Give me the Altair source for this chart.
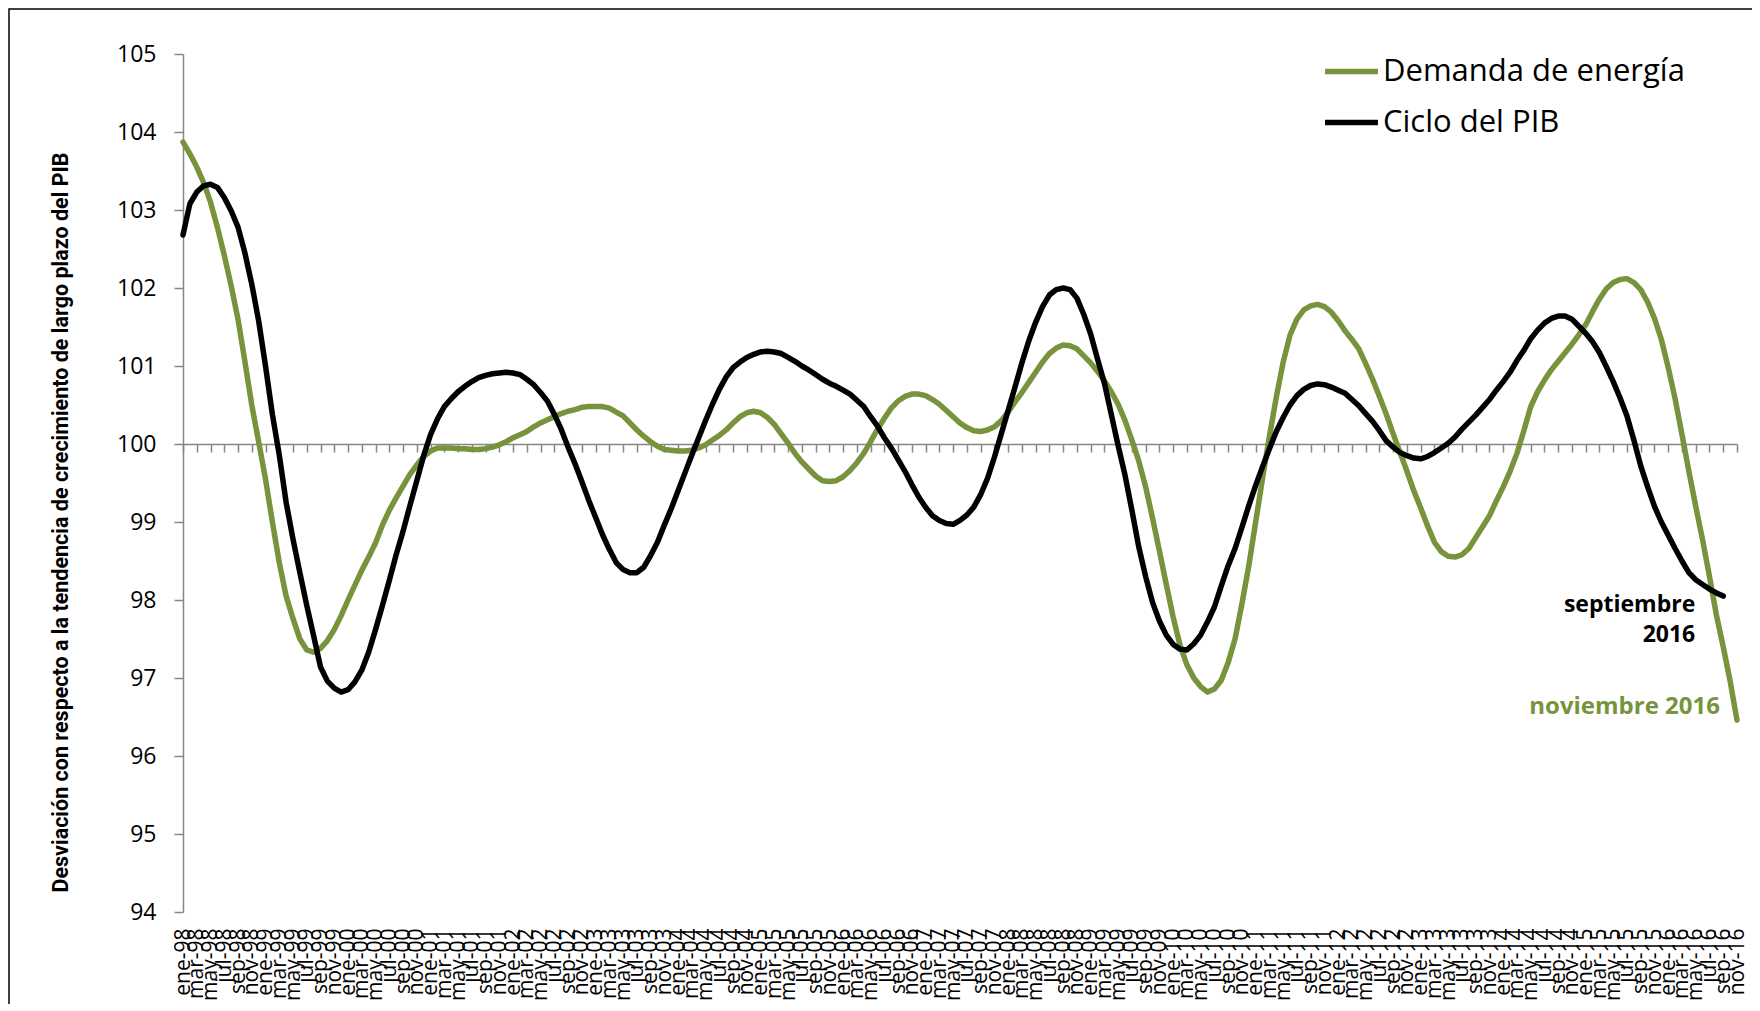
import altair as alt
import pandas as pd

MESES = ["ene", "feb", "mar", "abr", "may", "jun", "jul", "ago", "sep", "oct", "nov", "dic"]
meses = [f"{MESES[m]}-{(1998 + y) % 100:02d}" for y in range(19) for m in range(12)][:227]

demanda = [
    103.87, 103.72, 103.55, 103.35, 103.10, 102.78, 102.42, 102.03, 101.60, 101.06,
    100.50, 100.03, 99.55, 99.00, 98.48, 98.05, 97.76, 97.50, 97.36, 97.33,
    97.38, 97.48, 97.62, 97.80, 98.00, 98.19, 98.38, 98.55, 98.73, 98.96,
    99.15, 99.31, 99.46, 99.61, 99.73, 99.84, 99.91, 99.95, 99.95, 99.95,
    99.94, 99.94, 99.93, 99.93, 99.94, 99.96, 99.99, 100.03, 100.08, 100.12,
    100.16, 100.22, 100.27, 100.31, 100.35, 100.39, 100.42, 100.44, 100.47, 100.48,
    100.48, 100.48, 100.46, 100.41, 100.36, 100.27, 100.18, 100.10, 100.03, 99.97,
    99.93, 99.92, 99.91, 99.91, 99.92, 99.95, 99.99, 100.05, 100.11, 100.18,
    100.27, 100.35, 100.40, 100.42, 100.40, 100.34, 100.25, 100.13, 100.01, 99.88,
    99.77, 99.68, 99.59, 99.53, 99.52, 99.53, 99.58, 99.66, 99.76, 99.88,
    100.03, 100.19, 100.33, 100.46, 100.55, 100.61, 100.64, 100.64, 100.62, 100.57,
    100.51, 100.43, 100.35, 100.27, 100.21, 100.17, 100.16, 100.18, 100.22, 100.30,
    100.41, 100.54, 100.66, 100.79, 100.92, 101.05, 101.16, 101.23, 101.27, 101.26,
    101.22, 101.13, 101.04, 100.93, 100.81, 100.67, 100.51, 100.30, 100.05, 99.78,
    99.45, 99.05, 98.63, 98.20, 97.78, 97.42, 97.17, 97.00, 96.89, 96.82,
    96.86, 96.97, 97.20, 97.50, 97.95, 98.44, 99.00, 99.56, 100.10, 100.60,
    101.05, 101.40, 101.60, 101.72, 101.77, 101.79, 101.76, 101.69, 101.58, 101.45,
    101.34, 101.22, 101.03, 100.83, 100.61, 100.38, 100.13, 99.89, 99.65, 99.40,
    99.18, 98.95, 98.74, 98.62, 98.56, 98.55, 98.58, 98.66, 98.80, 98.94,
    99.08, 99.27, 99.45, 99.65, 99.88, 100.17, 100.48, 100.67, 100.82, 100.95,
    101.06, 101.17, 101.28, 101.40, 101.53, 101.70, 101.86, 101.99, 102.07, 102.11,
    102.12, 102.07, 101.98, 101.82, 101.61, 101.34, 100.98, 100.58, 100.12, 99.65,
    99.20, 98.77, 98.30, 97.81, 97.40, 96.96, 96.46,
]

ciclo = [
    102.68, 103.08, 103.23, 103.31, 103.33, 103.29, 103.16, 102.99, 102.78, 102.45,
    102.05, 101.58, 101.00, 100.38, 99.86, 99.25, 98.78, 98.35, 97.93, 97.54,
    97.14, 96.96, 96.87, 96.82, 96.85, 96.95, 97.10, 97.33, 97.62, 97.93,
    98.25, 98.58, 98.88, 99.21, 99.53, 99.85, 100.12, 100.32, 100.48, 100.58,
    100.67, 100.74, 100.80, 100.85, 100.88, 100.90, 100.91, 100.92, 100.91, 100.89,
    100.83, 100.76, 100.66, 100.55, 100.38, 100.19, 99.96, 99.75, 99.52, 99.28,
    99.06, 98.84, 98.65, 98.48, 98.39, 98.35, 98.35, 98.42, 98.57, 98.74,
    98.96, 99.17, 99.40, 99.63, 99.86, 100.08, 100.30, 100.51, 100.70, 100.86,
    100.98, 101.05, 101.11, 101.15, 101.18, 101.19, 101.18, 101.16, 101.11, 101.06,
    101.00, 100.95, 100.89, 100.83, 100.78, 100.74, 100.69, 100.64, 100.56, 100.48,
    100.35, 100.23, 100.08, 99.95, 99.80, 99.65, 99.48, 99.32, 99.19, 99.08,
    99.02, 98.98, 98.97, 99.02, 99.09, 99.19, 99.35, 99.56, 99.83, 100.13,
    100.43, 100.73, 101.04, 101.32, 101.56, 101.76, 101.91, 101.98, 102.00, 101.98,
    101.87, 101.66, 101.41, 101.09, 100.78, 100.38, 99.98, 99.60, 99.15, 98.68,
    98.30, 97.97, 97.73, 97.55, 97.43, 97.37, 97.36, 97.44, 97.55, 97.72,
    97.91, 98.18, 98.44, 98.66, 98.93, 99.21, 99.47, 99.71, 99.94, 100.16,
    100.34, 100.50, 100.62, 100.70, 100.75, 100.77, 100.76, 100.73, 100.69, 100.65,
    100.57, 100.49, 100.39, 100.29, 100.17, 100.04, 99.96, 99.89, 99.85, 99.82,
    99.81, 99.84, 99.89, 99.95, 100.01, 100.09, 100.19, 100.28, 100.37, 100.47,
    100.57, 100.69, 100.80, 100.92, 101.07, 101.20, 101.35, 101.46, 101.55, 101.61,
    101.64, 101.64, 101.60, 101.51, 101.42, 101.31, 101.17, 100.99, 100.80, 100.59,
    100.36, 100.05, 99.72, 99.45, 99.20, 99.00, 98.83, 98.66, 98.50, 98.35,
    98.26, 98.20, 98.14, 98.09, 98.05,
]

series = ["Demanda de energía", "Ciclo del PIB"]
colores = ["#77933C", "#000000"]
y_ticks = list(range(94, 106))

ann_negro_txt = ["septiembre", "2016"]
ann_negro_mes = ["sep-16", "sep-16"]
ann_negro_val = [97.93, 97.55]
ann_verde_txt = ["noviembre 2016"]
ann_verde_mes = ["nov-16"]
ann_verde_val = [96.63]

rows = []
for i, v in enumerate(demanda):
    rows.append({"mes": meses[i], "serie": series[0], "valor": v, "k": i})
for i, v in enumerate(ciclo):
    rows.append({"mes": meses[i], "serie": series[1], "valor": v, "k": i})
df = pd.DataFrame(rows)

x_scale = alt.Scale(type="point", padding=0)
y_scale = alt.Scale(domain=[94, 105], nice=False, zero=False)

x_axis = alt.Axis(
    values=meses[::2], labelAngle=-90, labelFont="Open Sans", labelFontSize=21,
    labelColor="black", tickSize=8, offset=-468, labelPadding=476,
    labelOverlap=False, labelFlush=False, grid=False, title=None,
)
y_axis = alt.Axis(
    values=y_ticks, format="d", labelFont="Open Sans", labelFontSize=23, labelColor="black",
    tickSize=9, labelPadding=18, grid=False,
    title="Desviación con respecto a la tendencia de crecimiento de largo plazo del PIB",
    titleFont="Roboto", titleFontSize=21.5, titleFontWeight="bold", titleColor="black",
    titleAngle=270, titleX=-122, titleY=468, titleAlign="center", titleBaseline="middle",
    titleLimit=0,
)

border = alt.Chart(pd.DataFrame({"a": [0]})).mark_rect(
    filled=False, stroke="black", strokeWidth=1.5
).encode(x=alt.value(-174), y=alt.value(-45), x2=alt.value(1700), y2=alt.value(1100))

lines = alt.Chart(df).mark_line(strokeWidth=5.5, strokeCap="round", strokeJoin="round").encode(
    x=alt.X("mes:O", sort=meses, scale=x_scale, axis=x_axis),
    y=alt.Y("valor:Q", scale=y_scale, axis=y_axis),
    color=alt.Color(
        "serie:N", sort=series,
        scale=alt.Scale(domain=series, range=colores),
        legend=alt.Legend(
            orient="none", legendX=1139, legendY=-12, title=None,
            symbolType="stroke", symbolStrokeWidth=5.5, symbolSize=2800,
            labelFont="Open Sans", labelFontSize=31, labelColor="black", labelLimit=0,
            rowPadding=6, labelOffset=2, padding=0,
        ),
    ),
    order=alt.Order("k:Q"),
)

ann_negro = alt.Chart(pd.DataFrame({"t": ann_negro_txt, "mes": ann_negro_mes, "valor": ann_negro_val})).mark_text(
    font="Open Sans", fontWeight="bold", fontSize=23, align="right", baseline="middle", dx=-28, color="black"
).encode(x=alt.X("mes:O", sort=meses), y=alt.Y("valor:Q"), text="t:N")

ann_verde = alt.Chart(pd.DataFrame({"t": ann_verde_txt, "mes": ann_verde_mes, "valor": ann_verde_val})).mark_text(
    font="Open Sans", fontWeight="bold", fontSize=24, align="right", baseline="middle", dx=-17, color="#77933C"
).encode(x=alt.X("mes:O", sort=meses), y=alt.Y("valor:Q"), text="t:N")

chart = alt.layer(border, lines, ann_negro, ann_verde).properties(
    width=1554, height=858,
    padding={"left": 175, "top": 46, "right": 15, "bottom": 92},
    autosize=alt.AutoSizeParams(type="none"),
).configure_view(strokeWidth=0).configure_axis(
    domainColor="#868686", tickColor="#868686", domainWidth=1.5, tickWidth=1.5
)

chart.save("out.html", embed_options={"renderer": "svg", "actions": False})
